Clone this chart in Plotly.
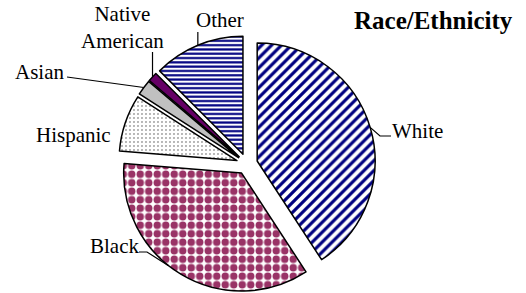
import math
import plotly.graph_objects as go

# ---- data ----
categories = ["White", "Black", "Hispanic", "Asian", "Native American", "Other"]
values = [40.8, 35.5, 7.8, 2.1, 1.3, 12.5]
label_text = ["White", "Black", "Hispanic", "Asian", "Native<br>American", "Other"]
title_text = "Race/Ethnicity"

# ---- styles ----
W, H = 526, 293
pull = 0.09
slice_colors = ["white", "white", "white", "#C0C0C0", "#660066", "white"]
pat_shape = ["/", ".", ".", "", "", "-"]
pat_fg = ["#000080", "#993366", "#333333", "#000000", "#000000", "#000080"]
pat_size = [7, 8.5, 4, 6, 6, 4.3]
pat_sol = [0.45, 0.6, 0.08, 0.3, 0.3, 0.5]

dom_x = [0.2253, 0.7139]
dom_y = [0.0017, 0.8788]

fig = go.Figure(go.Pie(
    labels=categories, values=values, sort=False, direction="clockwise",
    rotation=0, pull=[pull] * len(values), textinfo="none", hoverinfo="label+percent",
    marker=dict(colors=slice_colors, line=dict(color="black", width=1.5),
                pattern=dict(shape=pat_shape, fgcolor=pat_fg, size=pat_size,
                             solidity=pat_sol, fillmode="replace")),
    domain=dict(x=dom_x, y=dom_y), showlegend=False,
))

# pie geometry in pixels (same rules plotly uses)
box_w = W * (dom_x[1] - dom_x[0])
box_h = H * (dom_y[1] - dom_y[0])
r = min(box_w, box_h) / (2 + 2 * pull)
cx = W * (dom_x[0] + dom_x[1]) / 2
cy = H * (1 - dom_y[0]) - box_h / 2
tot = sum(values)

def px2paper(x, y):
    return x / W, 1 - y / H

def arc_point(i, extra_deg=0.0):
    start = sum(values[:i]) / tot * 360
    span = values[i] / tot * 360
    mid = start + span / 2
    a = math.radians(mid + extra_deg)
    m = math.radians(mid)
    ox = cx + pull * r * math.sin(m)
    oy = cy - pull * r * math.cos(m)
    return ox + r * math.sin(a), oy - r * math.cos(a)

# label layout (pixel positions) and leader-line elbows
label_pos = [(417, 131), (114, 246), (73, 135), (39, 72), (122, 27), (220, 20)]
leader_pts = [
    [(380, 136), (391, 136)],
    [(147, 252), (139, 252)],
    None,
    [(67, 77)],
    [(152.5, 52)],
    [(202, 32)],
]
anchor_offset = [0, 7.5, 0, 0, 0, 0]

shapes = []
for i, pts in enumerate(leader_pts):
    if not pts:
        continue
    x0, y0 = arc_point(i, anchor_offset[i])
    if i in (4, 5):
        pts = [(x0, pts[0][1])]
    path_pts = [(x0, y0)] + pts
    d = ""
    for k, (x, y) in enumerate(path_pts):
        px, py = px2paper(x, y)
        d += ("M" if k == 0 else " L") + f"{px:.5f},{py:.5f}"
    shapes.append(dict(type="path", path=d, xref="paper", yref="paper",
                       line=dict(color="black", width=1.2)))

font_family = "Liberation Serif, Times New Roman, serif"
annotations = []
for i, (x, y) in enumerate(label_pos):
    px, py = px2paper(x, y)
    annotations.append(dict(text=label_text[i], x=px, y=py, xref="paper", yref="paper",
                            showarrow=False, xanchor="center", yanchor="middle",
                            font=dict(family=font_family, size=21, color="black"),
                            align="center"))
tx, ty = px2paper(433, 21)
annotations.append(dict(text=f"<b>{title_text}</b>", x=tx, y=ty, xref="paper", yref="paper",
                        showarrow=False, xanchor="center", yanchor="middle",
                        font=dict(family=font_family, size=25, color="black")))

fig.update_layout(width=W, height=H, margin=dict(l=0, r=0, t=0, b=0),
                  paper_bgcolor="white", plot_bgcolor="white",
                  shapes=shapes, annotations=annotations)

fig.write_html("out.html", config={"displayModeBar": False},
               post_script="document.body.style.margin='0';")
